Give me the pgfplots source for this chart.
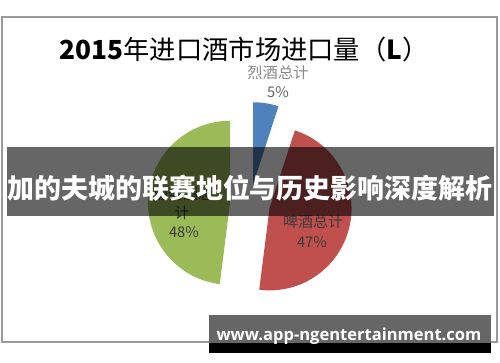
\documentclass[border=0pt]{standalone}
\usepackage{pgfplots}
\pgfplotsset{compat=1.18}
\usepackage{fontspec}
\setmainfont{Noto Sans CJK SC}
\newfontfamily\urlfont{Open Sans}
\definecolor{sBlue}{HTML}{4F81BD}
\definecolor{sRed}{HTML}{C0504D}
\definecolor{sGreen}{HTML}{9BBB59}
\definecolor{frameGray}{HTML}{9A9A9A}
\definecolor{lblGray}{HTML}{888888}
\definecolor{lblDark}{HTML}{3A3A3A}
\begin{document}
\begin{tikzpicture}
% data (percent shares)
\def\pA{5}   % 烈酒总计
\def\pB{47}  % 啤酒总计
\def\pC{48}  % 葡萄酒总计
\pgfmathsetmacro\aA{0}
\pgfmathsetmacro\bA{\pA*3.6}
\pgfmathsetmacro\bB{(\pA+\pB)*3.6}
\pgfmathsetmacro\bC{(\pA+\pB+\pC)*3.6}
\pgfmathsetmacro\mA{\bA/2}
\pgfmathsetmacro\mB{(\bA+\bB)/2}
\pgfmathsetmacro\mC{(\bB+\bC)/2}
\pgfmathsetmacro\cxA{250+20*sin(\mA)}
\pgfmathsetmacro\cyA{204-20*cos(\mA)}
\pgfmathsetmacro\cxB{250+20*sin(\mB)}
\pgfmathsetmacro\cyB{204-20*cos(\mB)}
\pgfmathsetmacro\cxC{250+20*sin(\mC)}
\pgfmathsetmacro\cyC{204-20*cos(\mC)}
\pgfmathsetmacro\sA{90-\aA}\pgfmathsetmacro\eA{90-\bA}
\pgfmathsetmacro\sB{90-\bA}\pgfmathsetmacro\eB{90-\bB}
\pgfmathsetmacro\sC{90-\bB}\pgfmathsetmacro\eC{90-\bC}
\begin{axis}[
  width=375pt, height=271.5pt, scale only axis,
  xmin=0, xmax=500, ymin=0, ymax=362, y dir=reverse,
  hide axis, clip=false, enlargelimits=false]
\fill[white] (axis cs:0,0) rectangle (axis cs:500,362);
% chart frame
\draw[frameGray, line width=1.6pt] (axis cs:2,17) rectangle (axis cs:497,342);
% title
\node[anchor=center] at (axis cs:244,50)
  {\fontsize{19.7}{22}\selectfont\textbf{2015}年进口酒市场进口量（\textbf{L}）};
% pie slices
\fill[sBlue] (axis cs:\cxA,\cyA) -- ++(\sA:61.5pt) arc[start angle=\sA, end angle=\eA, radius=61.5pt] -- cycle;
\fill[sRed] (axis cs:\cxB,\cyB) -- ++(\sB:61.5pt) arc[start angle=\sB, end angle=\eB, radius=61.5pt] -- cycle;
\fill[sGreen] (axis cs:\cxC,\cyC) -- ++(\sC:61.5pt) arc[start angle=\sC, end angle=\eC, radius=61.5pt] -- cycle;
% labels
\node[lblGray] at (axis cs:278,73) {\fontsize{11.5}{13}\selectfont 烈酒总计};
\node[lblDark!80] at (axis cs:278,92) {\fontsize{11}{13}\selectfont 5\%};
\node[lblDark] at (axis cs:313,222) {\fontsize{11.25}{13}\selectfont 啤酒总计};
\node[lblDark] at (axis cs:312,242) {\fontsize{11}{13}\selectfont 47\%};
\node[lblDark] at (axis cs:183,194) {\fontsize{11.25}{13}\selectfont 葡萄酒总};
\node[lblDark] at (axis cs:182,213) {\fontsize{11.25}{13}\selectfont 计};
\node[lblDark] at (axis cs:184,232) {\fontsize{11}{13}\selectfont 48\%};
% banner
\fill[black, opacity=0.6] (axis cs:7,147) rectangle (axis cs:494,216);
\node[white] at (axis cs:250,188) {\fontsize{20.2}{24}\selectfont\bfseries 加的夫城的联赛地位与历史影响深度解析};
% bottom box
\fill[black!60] (axis cs:209,315) rectangle (axis cs:491,343);
\fill[black] (axis cs:209,343) rectangle (axis cs:491,353);
\node[white] at (axis cs:349,336) {\urlfont\fontsize{12.4}{14}\selectfont\bfseries www.app-ngentertainment.com};
\end{axis}
\end{tikzpicture}
\end{document}
